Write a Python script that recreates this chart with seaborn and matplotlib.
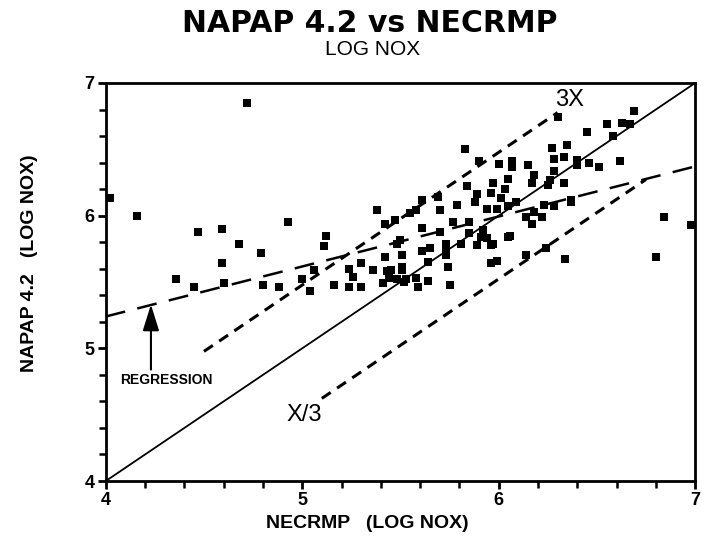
import numpy as np
import pandas as pd
import matplotlib
matplotlib.use('Agg')
import matplotlib.pyplot as plt
import seaborn as sns

# NECRMP (x) vs NAPAP 4.2 (y), log NOx
necrmp = [4.02, 4.16, 4.72, 4.47, 4.59, 4.68, 4.93, 4.79, 4.59, 4.36,
          4.45, 4.60, 5.12, 5.11, 4.80, 4.88, 5.04, 5.16, 5.00, 5.06,
          5.38, 5.42, 5.30, 5.24, 5.26, 5.36, 5.24, 5.30, 5.43, 5.44,
          5.48, 5.48, 5.83, 5.90, 6.00, 6.07, 6.07, 6.15, 6.18, 6.17,
          6.26, 6.33, 5.84, 5.89, 5.96, 6.03, 6.01, 5.61, 5.69, 5.70,
          5.79, 5.88, 5.94, 5.99, 6.05, 6.09, 6.14, 6.18, 6.17, 6.22,
          6.28, 6.37, 5.50, 5.61, 5.70, 5.77, 5.85, 5.92, 5.85, 5.91,
          5.97, 6.06, 5.73, 5.73, 5.81, 5.42, 5.51, 5.61, 5.64, 5.74,
          5.96, 5.99, 5.45, 5.51, 5.58, 5.64, 5.75, 5.53, 5.41, 6.34,
          6.80, 6.84, 6.98, 5.73, 6.69, 6.55, 6.63, 6.67, 6.45, 6.58,
          6.27, 6.35, 6.30, 6.28, 6.33, 6.40, 6.40, 6.46, 6.51, 6.62,
          6.28, 6.37, 6.24, 6.14, 5.51, 5.52, 5.59, 5.94, 6.05, 5.65,
          5.55, 5.58, 5.47, 5.97, 6.05, 6.25, 6.23, 5.96, 5.89]
napap = [6.13, 6.00, 6.85, 5.88, 5.90, 5.79, 5.95, 5.72, 5.64, 5.52,
         5.46, 5.49, 5.85, 5.77, 5.48, 5.46, 5.43, 5.48, 5.52, 5.59,
         6.04, 5.94, 5.64, 5.60, 5.54, 5.59, 5.46, 5.46, 5.58, 5.53,
         5.52, 5.79, 6.50, 6.41, 6.39, 6.41, 6.37, 6.38, 6.31, 6.25,
         6.27, 6.25, 6.22, 6.16, 6.17, 6.20, 6.13, 6.12, 6.14, 6.04,
         6.08, 6.10, 6.05, 6.05, 6.07, 6.10, 5.99, 6.03, 5.94, 5.99,
         6.07, 6.10, 5.82, 5.91, 5.88, 5.95, 5.95, 5.89, 5.87, 5.84,
         5.79, 5.85, 5.79, 5.74, 5.79, 5.69, 5.70, 5.73, 5.65, 5.61,
         5.64, 5.66, 5.59, 5.59, 5.53, 5.51, 5.48, 5.52, 5.49, 5.67,
         5.69, 5.99, 5.93, 5.70, 6.79, 6.69, 6.70, 6.69, 6.63, 6.60,
         6.51, 6.53, 6.74, 6.43, 6.44, 6.42, 6.38, 6.40, 6.37, 6.41,
         6.34, 6.12, 5.76, 5.70, 5.61, 5.50, 5.46, 5.83, 5.84, 5.76,
         6.02, 6.04, 5.97, 6.25, 6.28, 6.23, 6.08, 5.78, 5.78]

# reference lines
one_to_one_x = [4.0, 7.0]
three_x_x = [4.5, 6.3]      # 3X line
third_x = [5.1, 6.75]       # X/3 line
reg_x = [4.0, 7.0]
reg_intercept = 5.24        # regression value at x = 4
reg_slope = 0.377
factor = np.log10(3)

df = pd.DataFrame({'NECRMP': necrmp, 'NAPAP': napap})

sns.set_style('ticks')
plt.rcParams['font.family'] = ['Liberation Sans', 'DejaVu Sans']
plt.rcParams['text.color'] = 'black'
plt.rcParams['axes.labelcolor'] = 'black'
plt.rcParams['xtick.color'] = 'black'
plt.rcParams['ytick.color'] = 'black'

fig = plt.figure(figsize=(7.05, 5.46), dpi=100)
ax = fig.add_axes([0.150, 0.119, 0.836, 0.729])

sns.scatterplot(data=df, x='NECRMP', y='NAPAP', marker='s', color='black',
                s=30, edgecolor='black', linewidth=0, ax=ax, zorder=3)

x = np.array(one_to_one_x)
ax.plot(x, x, color='black', lw=1.3)
x = np.array(three_x_x)
ax.plot(x, x + factor, color='black', lw=2.2, dashes=(3.5, 2.5))
x = np.array(third_x)
ax.plot(x, x - factor, color='black', lw=2.2, dashes=(3.5, 2.5))
x = np.array(reg_x)
ax.plot(x, reg_intercept + reg_slope * (x - 4), color='black', lw=1.8,
        dashes=(8, 5))

ax.text(6.36, 6.87, '3X', fontsize=17, ha='center', va='center')
ax.text(5.01, 4.50, 'X/3', fontsize=17, ha='center', va='center')
ax.annotate('', xy=(4.23, 5.33), xytext=(4.23, 4.84),
            arrowprops=dict(arrowstyle='-|>,head_length=1.6,head_width=0.5',
                            color='black', lw=1.5, shrinkA=0, shrinkB=0))
ax.text(4.31, 4.76, 'REGRESSION', fontsize=10, fontweight='bold',
        ha='center', va='center', family=['Liberation Sans Narrow', 'Liberation Sans'])

ax.set_xlim(4, 7)
ax.set_ylim(4, 7)
ax.set_xticks([4, 5, 6, 7])
ax.set_yticks([4, 5, 6, 7])
ax.set_xticks(np.arange(4, 7.01, 0.2), minor=True)
ax.set_yticks(np.arange(4, 7.01, 0.2), minor=True)
ax.tick_params(which='major', direction='out', length=6, width=2,
               labelsize=13, pad=2)
ax.tick_params(which='minor', direction='out', length=5, width=1.8)
for lab in ax.get_xticklabels() + ax.get_yticklabels():
    lab.set_fontweight('bold')
for sp in ax.spines.values():
    sp.set_visible(True)
    sp.set_linewidth(2)
    sp.set_color('black')

ax.set_xlabel('NECRMP   (LOG NOX)', fontsize=14, fontweight='bold')
ax.set_ylabel('NAPAP 4.2   (LOG NOX)', fontsize=14, fontweight='bold')
ax.xaxis.set_label_coords(0.443, -0.085)
ax.yaxis.set_label_coords(-0.115, 0.548)

fig.text(0.524, 0.942, 'NAPAP 4.2 vs NECRMP', fontsize=21.5, fontweight='heavy',
         ha='center', va='baseline', family=['DejaVu Sans'])
fig.text(0.529, 0.900, 'LOG NOX', fontsize=15, ha='center', va='baseline')

fig.savefig('out.png', dpi=100)
